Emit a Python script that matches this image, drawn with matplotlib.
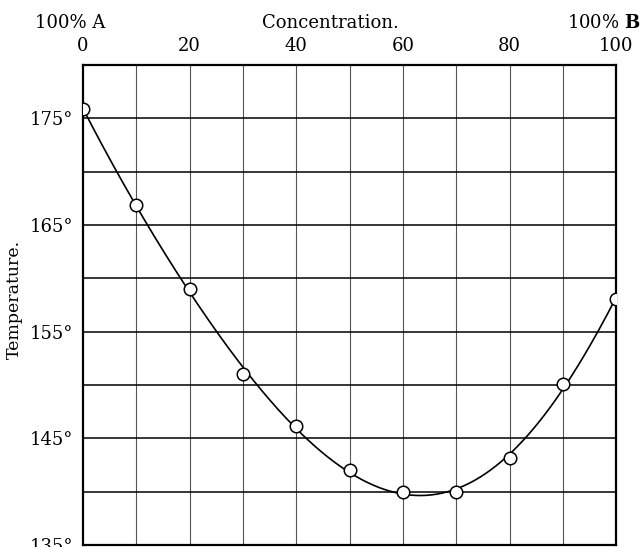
import numpy as np
import matplotlib
matplotlib.use("Agg")
import matplotlib.pyplot as plt

plt.rcParams['font.family'] = ['DejaVu Serif']
plt.rcParams['mathtext.fontset'] = 'dejavuserif'

# data
concentration = [0, 10, 20, 30, 40, 50, 60, 70, 80, 90, 100]
temperature = [175.9, 166.9, 159.0, 151.0, 146.1, 142.0, 140.0, 140.0, 143.1, 150.1, 158.1]
x_ticks = [0, 20, 40, 60, 80, 100]
y_ticks = [135, 145, 155, 165, 175]
y_labels = ["135°", "145°", "155°", "165°", "175°"]

fig = plt.figure(figsize=(6.42, 5.47), dpi=100)
ax = fig.add_axes([0.129, 0.004, 0.831, 0.877])

for v in range(10, 100, 10):
    ax.axvline(v, color='#555555', lw=0.8, zorder=1)
for v in range(140, 180, 5):
    ax.axhline(v, color='black', lw=1.1, zorder=1)

# smooth hand-drawn style curve through the measured points
coef = np.polyfit(concentration, temperature, 5)
xs = np.linspace(0, 100, 400)
ax.plot(xs, np.polyval(coef, xs), color='black', lw=1.2, zorder=2)
ax.plot(concentration, temperature, 'o', ms=9, mfc='white', mec='black', mew=1.1, zorder=3)

ax.set_xlim(0, 100)
ax.set_ylim(135, 180)
ax.xaxis.tick_top()
ax.set_xticks(x_ticks)
ax.set_xticklabels([str(v) for v in x_ticks], fontsize=13)
ax.set_yticks(y_ticks)
ax.set_yticklabels(y_labels, fontsize=13)
ax.tick_params(length=0, pad=7)
for s in ax.spines.values():
    s.set_linewidth(1.6)

fig.text(0.022, 0.453, "Temperature.", rotation=90, fontsize=12.5, ha='center', va='center')
fig.text(0.11, 0.958, "100% A", fontsize=13, ha='center', va='center')
fig.text(0.515, 0.958, "Concentration.", fontsize=13, ha='center', va='center')
fig.text(0.998, 0.958, r"100% $\mathbf{B}$", fontsize=13, ha='right', va='center')

fig.savefig("out.png", dpi=100)
